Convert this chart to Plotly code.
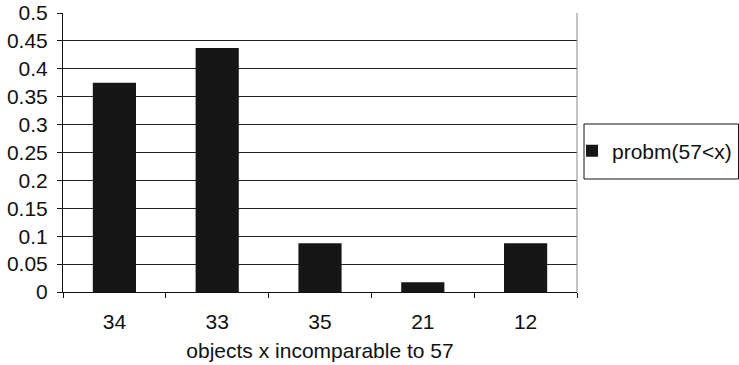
import plotly.graph_objects as go

categories = ["34", "33", "35", "21", "12"]
values = [0.375, 0.4375, 0.0875, 0.0175, 0.0875]
series_name = "probm(57<x)"
x_title = "objects x incomparable to 57"

FONT = "Liberation Sans, Arial, sans-serif"
FS = 21

W, H = 739, 365
L, T = 63, 13
PW, PH = 514, 279
R = W - L - PW
B = H - T - PH

def px(x):
    return (x - L) / PW

def py(y):
    return (T + PH - y) / PH

fig = go.Figure()
fig.add_trace(go.Bar(
    x=categories, y=values, name=series_name,
    marker=dict(color="#161616", line=dict(width=0)),
    showlegend=True,
))

fig.update_layout(
    width=W, height=H,
    margin=dict(l=L, r=R, t=T, b=B, autoexpand=False),
    plot_bgcolor="white", paper_bgcolor="white",
    bargap=0.58,
    font=dict(family=FONT, size=FS, color="#111"),
    showlegend=True,
    legend=dict(
        x=px(572), y=py(151), xanchor="left", yanchor="middle",
        bgcolor="rgba(0,0,0,0)", borderwidth=0,
        font=dict(family=FONT, size=FS, color="#111"),
    ),
    xaxis=dict(
        type="category", automargin=False,
        showline=True, linecolor="#111", linewidth=1,
        ticks="outside", ticklen=5, tickcolor="#111", tickson="boundaries",
        showgrid=False,
        ticklabelstandoff=11,
        title=dict(text=x_title, standoff=11, font=dict(family=FONT, size=FS)),
        tickfont=dict(family=FONT, size=FS),
    ),
    yaxis=dict(
        range=[0, 0.5], dtick=0.05, tick0=0, automargin=False,
        showline=True, linecolor="#111", linewidth=1,
        ticks="outside", ticklen=5, tickcolor="#111",
        showgrid=True, gridcolor="#222", gridwidth=1,
        zeroline=False,
        tickfont=dict(family=FONT, size=FS),
        ticklabelstandoff=5,
    ),
    shapes=[
        dict(type="line", xref="paper", yref="paper", x0=1, x1=1, y0=0, y1=1,
             line=dict(color="#888", width=1)),
        dict(type="rect", xref="paper", yref="paper",
             x0=px(584), x1=px(738.5),
             y0=py(179), y1=py(124),
             line=dict(color="#111", width=1), fillcolor="rgba(0,0,0,0)"),
    ],
)

fig.write_html(
    "out.html",
    config={"displayModeBar": False},
    post_script="document.body.style.margin='0';document.body.style.overflow='hidden';",
)
